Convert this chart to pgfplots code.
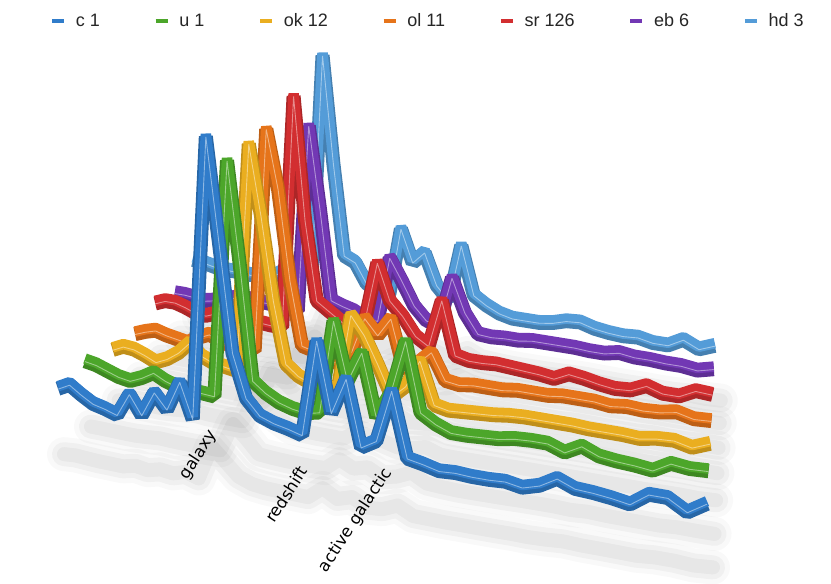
\documentclass[border=0pt]{standalone}
\usepackage{pgfplots}
\pgfplotsset{compat=1.18}
\usepackage{pgfplotstable}
\usepackage{fontspec}
\setmainfont{Liberation Sans}
\newfontfamily\labelfont{DejaVu Sans}

\definecolor{cA}{RGB}{48,124,202}
\definecolor{cB}{RGB}{76,166,42}
\definecolor{cC}{RGB}{234,174,32}
\definecolor{cD}{RGB}{230,116,26}
\definecolor{cE}{RGB}{210,46,48}
\definecolor{cF}{RGB}{114,56,180}
\definecolor{cG}{RGB}{84,156,216}

% index, then one column per series (height above the series' floor line)
\pgfplotstableread{
i c1 u1 ok ol sr eb hd
0 32 32 15 8 18 8 23
1 38 30 20 12 22 8 22
2 30 26 19 15 22 7 20
3 23 22 15 12 19 5 18
4 20 20 10 10 15 7 18
5 16 25 15 8 14 8 18
6 39 32 23 15 18 13 17
7 20 26 35 20 22 15 18
8 45 22 24 15 19 13 18
9 30 20 19 12 16 13 24
10 60 20 17 14 16 12 34
11 25 19 15 11 15 11 31
12 310 257 244 235 15 10 31
13 205 155 174 177 248 197 248
14 98 41 91 87 125 116 142
15 55 31 30 24 47 26 51
16 40 24 20 21 39 22 46
17 35 20 15 13 31 19 27
18 32 18 14 13 23 13 21
19 28 21 12 27 35 13 20
20 125 115 90 62 95 78 87
21 55 57 72 47 59 57 55
22 92 88 45 66 46 34 67
23 26 26 15 16 28 21 36
24 35 53 28 26 20 21 23
25 88 107 56 39 68 68 80
26 23 38 14 13 15 35 32
27 20 29 11 11 12 16 24
28 16 23 12 13 12 15 18
29 17 23 13 13 13 16 15
30 16 24 14 13 12 16 15
31 16 25 16 15 11 18 15
32 17 28 17 15 10 18 17
33 14 29 17 15 8 18 21
34 19 29 17 17 15 18 22
35 29 23 17 17 13 17 18
36 22 32 16 17 10 17 16
37 21 25 16 15 8 20 15
38 19 23 16 17 9 18 16
39 16 22 15 16 16 18 13
40 29 20 18 17 11 17 13
41 29 30 19 20 11 17 21
42 18 28 15 16 19 15 14
43 30 29 22 17 18 19 20
}\data

\newcommand{\shadow}[2]{%
  \addplot[draw=black, draw opacity=0.025, line width=34pt, line join=round, line cap=round, forget plot]
    table[x expr={PX(\thisrow{i},#2)+6}, y expr={SY(\thisrow{i},#2,\thisrow{#1})}] {\data};
  \addplot[draw=black, draw opacity=0.035, line width=24pt, line join=round, line cap=round, forget plot]
    table[x expr={PX(\thisrow{i},#2)+6}, y expr={SY(\thisrow{i},#2,\thisrow{#1})}] {\data};
  \addplot[draw=black, draw opacity=0.04, line width=14pt, line join=round, line cap=round, forget plot]
    table[x expr={PX(\thisrow{i},#2)+6}, y expr={SY(\thisrow{i},#2,\thisrow{#1})}] {\data};
}
\newcommand{\ribbon}[3]{%
  \addplot[draw=#3!82!black, line width=14pt, line join=bevel, forget plot]
    table[x expr={PX(\thisrow{i},#2)}, y expr={PY(\thisrow{i},#2,\thisrow{#1})-0.8}] {\data};
  \addplot[draw=#3, line width=10.5pt, line join=bevel, forget plot]
    table[x expr={PX(\thisrow{i},#2)}, y expr={PY(\thisrow{i},#2,\thisrow{#1})+1.8}] {\data};
  \addplot[draw=#3!55!white, line width=0.9pt, line join=bevel, forget plot]
    table[x expr={PX(\thisrow{i},#2)}, y expr={PY(\thisrow{i},#2,\thisrow{#1})-1.2}] {\data};
}

\begin{document}
\begin{tikzpicture}
\begin{axis}[
  width=831pt, height=584pt, scale only axis,
  xmin=0, xmax=831, ymin=0, ymax=584,
  hide axis, clip=false,
  declare function={
    U(\i)=(0.762*\i/43)/(1-0.238*\i/43);
    PX(\i,\k)=58+22.5*\k+U(\i)*(649-21.2*\k);
    PY(\i,\k,\v)=584-(420-23*\k+U(\i)*(113-5*\k)-\v);
    SY(\i,\k,\v)=584-(420-23*\k+U(\i)*(113-5*\k)+38-0.12*\v);
  },
  legend columns=7,
  legend style={at={(0.515,0.964)}, anchor=center, draw=none, fill=none,
    font=\fontsize{18}{20}\selectfont\color{black!85},
    /tikz/every odd column/.append style={column sep=8pt},
    /tikz/every even column/.append style={column sep=52pt}},
  legend image code/.code={\draw[#1, line width=3.5pt] (0pt,0pt) -- (12pt,0pt);},
]
\addlegendimage{draw=cA}\addlegendentry{c 1}
\addlegendimage{draw=cB}\addlegendentry{u 1}
\addlegendimage{draw=cC}\addlegendentry{ok 12}
\addlegendimage{draw=cD}\addlegendentry{ol 11}
\addlegendimage{draw=cE}\addlegendentry{sr 126}
\addlegendimage{draw=cF}\addlegendentry{eb 6}
\addlegendimage{draw=cG}\addlegendentry{hd 3}

\shadow{hd}{6}
\shadow{eb}{5.2}
\shadow{sr}{4.32}
\shadow{ol}{3.42}
\shadow{ok}{2.43}
\shadow{u1}{1.2}
\shadow{c1}{0}

\ribbon{hd}{6}{cG}
\ribbon{eb}{5.2}{cF}
\ribbon{sr}{4.32}{cE}
\ribbon{ol}{3.42}{cD}
\ribbon{ok}{2.43}{cC}
\ribbon{u1}{1.2}{cB}
\ribbon{c1}{0}{cA}

\node[rotate=57, anchor=east, font=\labelfont\fontsize{16.5}{18}\selectfont, inner sep=1pt] at (axis cs:214,153) {galaxy};
\node[rotate=57, anchor=east, font=\labelfont\fontsize{16.5}{18}\selectfont, inner sep=1pt] at (axis cs:304,117) {redshift};
\node[rotate=57, anchor=east, font=\labelfont\fontsize{16.5}{18}\selectfont, inner sep=1pt] at (axis cs:389,115) {active galactic};
\end{axis}
\pgfresetboundingbox
\path[use as bounding box] (0,0) rectangle (831pt,584pt);
\end{tikzpicture}
\end{document}
